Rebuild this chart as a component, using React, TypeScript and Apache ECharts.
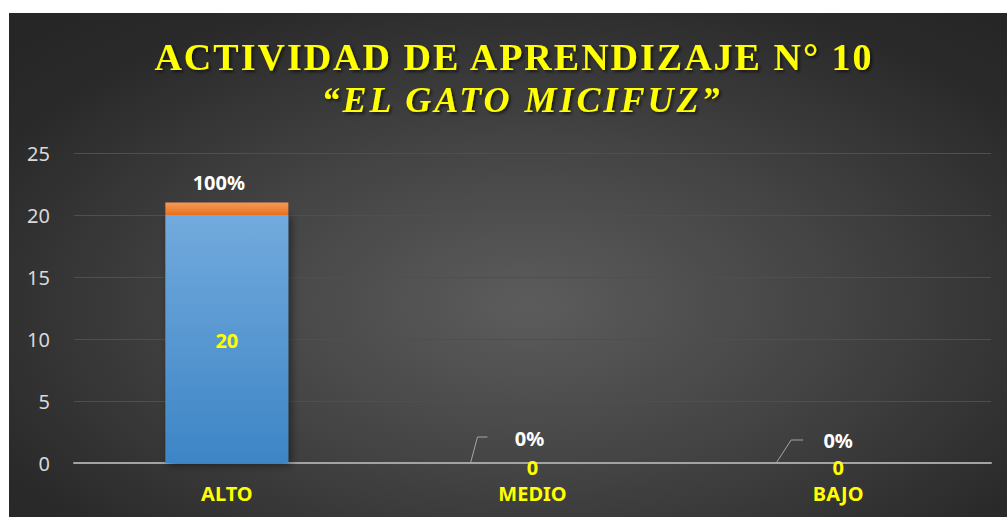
import React, { useEffect, useRef } from "react";
import * as echarts from "echarts";

const titleLine1 = "ACTIVIDAD DE APRENDIZAJE N° 10";
const titleLine2 = "“EL GATO MICIFUZ”";
const categories = ["ALTO", "MEDIO", "BAJO"];
const counts = [20, 0, 0];
const percents = [1, 0, 0];
const yMin = 0;
const yMax = 25;
const yInterval = 5;

// leader line shapes (relative to category centre at value 0) for zero-value labels
const leaderOffsets: number[][][] = [
  [],
  [[-62, 0], [-55, -26], [-45, -26]],
  [[-62, 0], [-47, -23], [-35, -23]],
];
const pctLabelOffsets = [[-8, 0], [-3, 0], [0, 0]];
const pctLabelDistances = [10, 15, 13];

export default function App() {
  const ref = useRef<HTMLDivElement>(null);
  useEffect(() => {
    const el = ref.current!;
    const chart = echarts.init(el, null, { renderer: "svg" });
    const option: any = {
      animation: false,
      backgroundColor: "transparent",
      grid: { left: 65, right: 16, top: 140, bottom: 54, containLabel: false },
      xAxis: {
        type: "category",
        data: categories,
        axisLine: { show: true, lineStyle: { color: "#a3a3a3", width: 2 } },
        axisTick: { show: false },
        axisLabel: {
          color: "#ffff00",
          fontWeight: "bold",
          fontSize: 20,
          fontFamily: "Noto Sans",
          margin: 20,
        },
      },
      yAxis: {
        type: "value",
        min: yMin,
        max: yMax,
        interval: yInterval,
        axisLine: { show: false },
        axisTick: { show: false },
        axisLabel: {
          color: "#d9d9d9",
          fontSize: 20,
          fontFamily: "Noto Sans",
          margin: 24,
        },
        splitLine: { lineStyle: { color: "#4f4f4f", width: 1 } },
      },
      series: [
        {
          name: "Cantidad",
          type: "bar",
          stack: "total",
          barWidth: 123,
          data: counts.map((v) => ({
            value: v,
            label: { offset: v === 0 ? [0, 4] : [0, 1] },
          })),
          itemStyle: {
            color: new echarts.graphic.LinearGradient(0, 0, 0, 1, [
              { offset: 0, color: "#72aadd" },
              { offset: 1, color: "#3d85c6" },
            ]),
            shadowColor: "rgba(0,0,0,0.45)",
            shadowBlur: 8,
            shadowOffsetX: 3,
            shadowOffsetY: 2,
          },
          label: {
            show: true,
            position: "inside",
            color: "#ffff00",
            fontWeight: "bold",
            fontSize: 20,
            lineHeight: 20,
            fontFamily: "Noto Sans",
          },
        },
        {
          name: "Porcentaje",
          type: "bar",
          stack: "total",
          barWidth: 123,
          data: percents.map((v, i) => ({
            value: v,
            label: { offset: pctLabelOffsets[i], distance: pctLabelDistances[i] },
          })),
          itemStyle: {
            color: new echarts.graphic.LinearGradient(0, 0, 0, 1, [
              { offset: 0, color: "#f79a55" },
              { offset: 1, color: "#e8701f" },
            ]),
          },
          label: {
            show: true,
            position: "top",
            color: "#ffffff",
            fontWeight: "bold",
            fontSize: 20,
            lineHeight: 20,
            fontFamily: "Noto Sans",
            formatter: (p: any) => Math.round(p.value * 100) + "%",
          },
        },
      ],
    };
    chart.setOption(option);

    const lines: any[] = [];
    percents.forEach((p, i) => {
      if (p === 0 && leaderOffsets[i].length) {
        const base = chart.convertToPixel({ gridIndex: 0 }, [i, 0]) as number[];
        lines.push({
          type: "polyline",
          silent: true,
          shape: { points: leaderOffsets[i].map(([dx, dy]) => [base[0] + dx, base[1] + dy]) },
          style: { stroke: "#a6a6a6", lineWidth: 1, fill: null },
          z: 10,
        });
      }
    });
    const titleStyle = {
      fill: "#ffff00",
      fontFamily: "Liberation Serif",
      fontWeight: "bold",
      textAlign: "center",
      textVerticalAlign: "middle",
      textShadowColor: "rgba(0,0,0,0.6)",
      textShadowBlur: 3,
      textShadowOffsetX: 2,
      textShadowOffsetY: 2,
    };
    chart.setOption({
      graphic: {
        elements: [
          {
            type: "text",
            x: 505,
            y: 44,
            style: { ...titleStyle, text: titleLine1, fontSize: 38 },
          },
          {
            type: "text",
            x: 513,
            y: 87,
            style: { ...titleStyle, text: titleLine2, fontSize: 36, fontStyle: "italic" },
          },
          ...lines,
        ],
      },
    });

    const applySpacing = () => {
      el.querySelectorAll("text").forEach((t) => {
        const s = t.textContent;
        if (s === titleLine1) (t as any).style.letterSpacing = "2px";
        if (s === titleLine2) (t as any).style.letterSpacing = "3px";
      });
    };
    applySpacing();
    chart.on("finished", applySpacing);
    const tm = setTimeout(applySpacing, 0);
    return () => {
      clearTimeout(tm);
      chart.dispose();
    };
  }, []);

  return (
    <div
      style={{
        position: "absolute",
        left: 0,
        top: 0,
        width: 1007,
        height: 517,
        background: "#ffffff",
      }}
    >
      <div
        ref={ref}
        style={{
          position: "absolute",
          left: 9,
          top: 13,
          width: 998,
          height: 504,
          background:
            "radial-gradient(ellipse 70% 75% at 52% 58%, #5c5c5c 0%, #434343 45%, #2a2a2a 85%, #262626 100%)",
        }}
      />
    </div>
  );
}
